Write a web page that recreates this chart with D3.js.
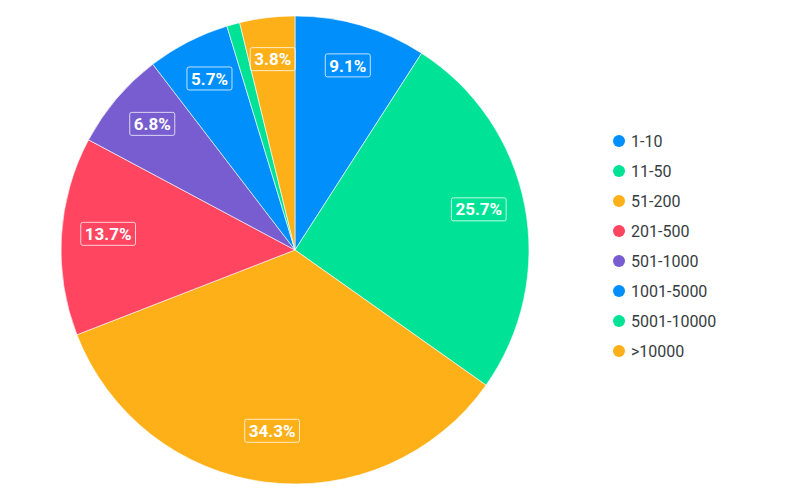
<!DOCTYPE html>
<html>
<head>
<meta charset="utf-8">
<script src="https://cdn.jsdelivr.net/npm/d3@7"></script>
<style>
  body { margin: 0; background: #fff; }
  svg { font-family: Roboto, "Noto Sans", sans-serif; }
</style>
</head>
<body>
<div id="chart"></div>
<script>
// company size buckets and their share (%)
const categories = ["1-10", "11-50", "51-200", "201-500", "501-1000", "1001-5000", "5001-10000", ">10000"];
const shares = [9.1, 25.7, 34.3, 13.7, 6.8, 5.7, 0.9, 3.8];
const colors = ["#008FFB", "#00E396", "#FEB019", "#FF4560", "#775DD0", "#008FFB", "#00E396", "#FEB019"];

const WIDTH = 800, HEIGHT = 500;
const CX = 295, CY = 250, R = 234;

const svg = d3.select("#chart").append("svg")
  .attr("width", WIDTH)
  .attr("height", HEIGHT);

const data = categories.map((c, i) => ({ name: c, value: shares[i], color: colors[i] }));

const pie = d3.pie().sort(null).value((d) => d.value);
const arc = d3.arc().innerRadius(0).outerRadius(R);
const labelArc = d3.arc().innerRadius(R * 0.8).outerRadius(R * 0.8);

const g = svg.append("g").attr("transform", `translate(${CX},${CY})`);

const arcs = pie(data);

g.selectAll(".slice")
  .data(arcs)
  .enter()
  .append("path")
  .attr("class", "slice")
  .attr("d", arc)
  .style("fill", (d) => d.data.color)
  .style("stroke", "#fff")
  .style("stroke-opacity", 0.6)
  .style("stroke-width", "1px");

// data labels (small slices skipped), nudged up a bit like the original
const labels = g.selectAll(".label")
  .data(arcs.filter((d) => d.data.value >= 2))
  .enter()
  .append("g")
  .attr("class", "label")
  .attr("transform", (d) => {
    const c = labelArc.centroid(d);
    return `translate(${c[0]},${c[1] - 5})`;
  });

labels.append("text")
  .attr("text-anchor", "middle")
  .attr("dy", "0.36em")
  .style("fill", "#fff")
  .style("font-size", "17px")
  .style("font-weight", "bold")
  .text((d) => d.data.value.toFixed(1) + "%");

labels.each(function () {
  const box = d3.select(this).select("text").node().getBBox();
  d3.select(this).insert("rect", "text")
    .attr("x", box.x - 4)
    .attr("y", -11.5)
    .attr("width", box.width + 8)
    .attr("height", 23)
    .attr("rx", 2)
    .style("fill", "none")
    .style("stroke", "#fff")
    .style("stroke-opacity", 0.75)
    .style("stroke-width", "1px");
});

// legend
const legend = svg.append("g")
  .attr("transform", "translate(619,141)")
  .selectAll(".legend")
  .data(data)
  .enter()
  .append("g")
  .attr("class", "legend")
  .attr("transform", (d, i) => `translate(0,${i * 30})`);

legend.append("circle")
  .attr("r", 6)
  .style("fill", (d) => d.color);

legend.append("text")
  .attr("x", 12)
  .attr("dy", "0.36em")
  .style("font-size", "16px")
  .style("fill", "#373d3f")
  .text((d) => d.name);
</script>
</body>
</html>
